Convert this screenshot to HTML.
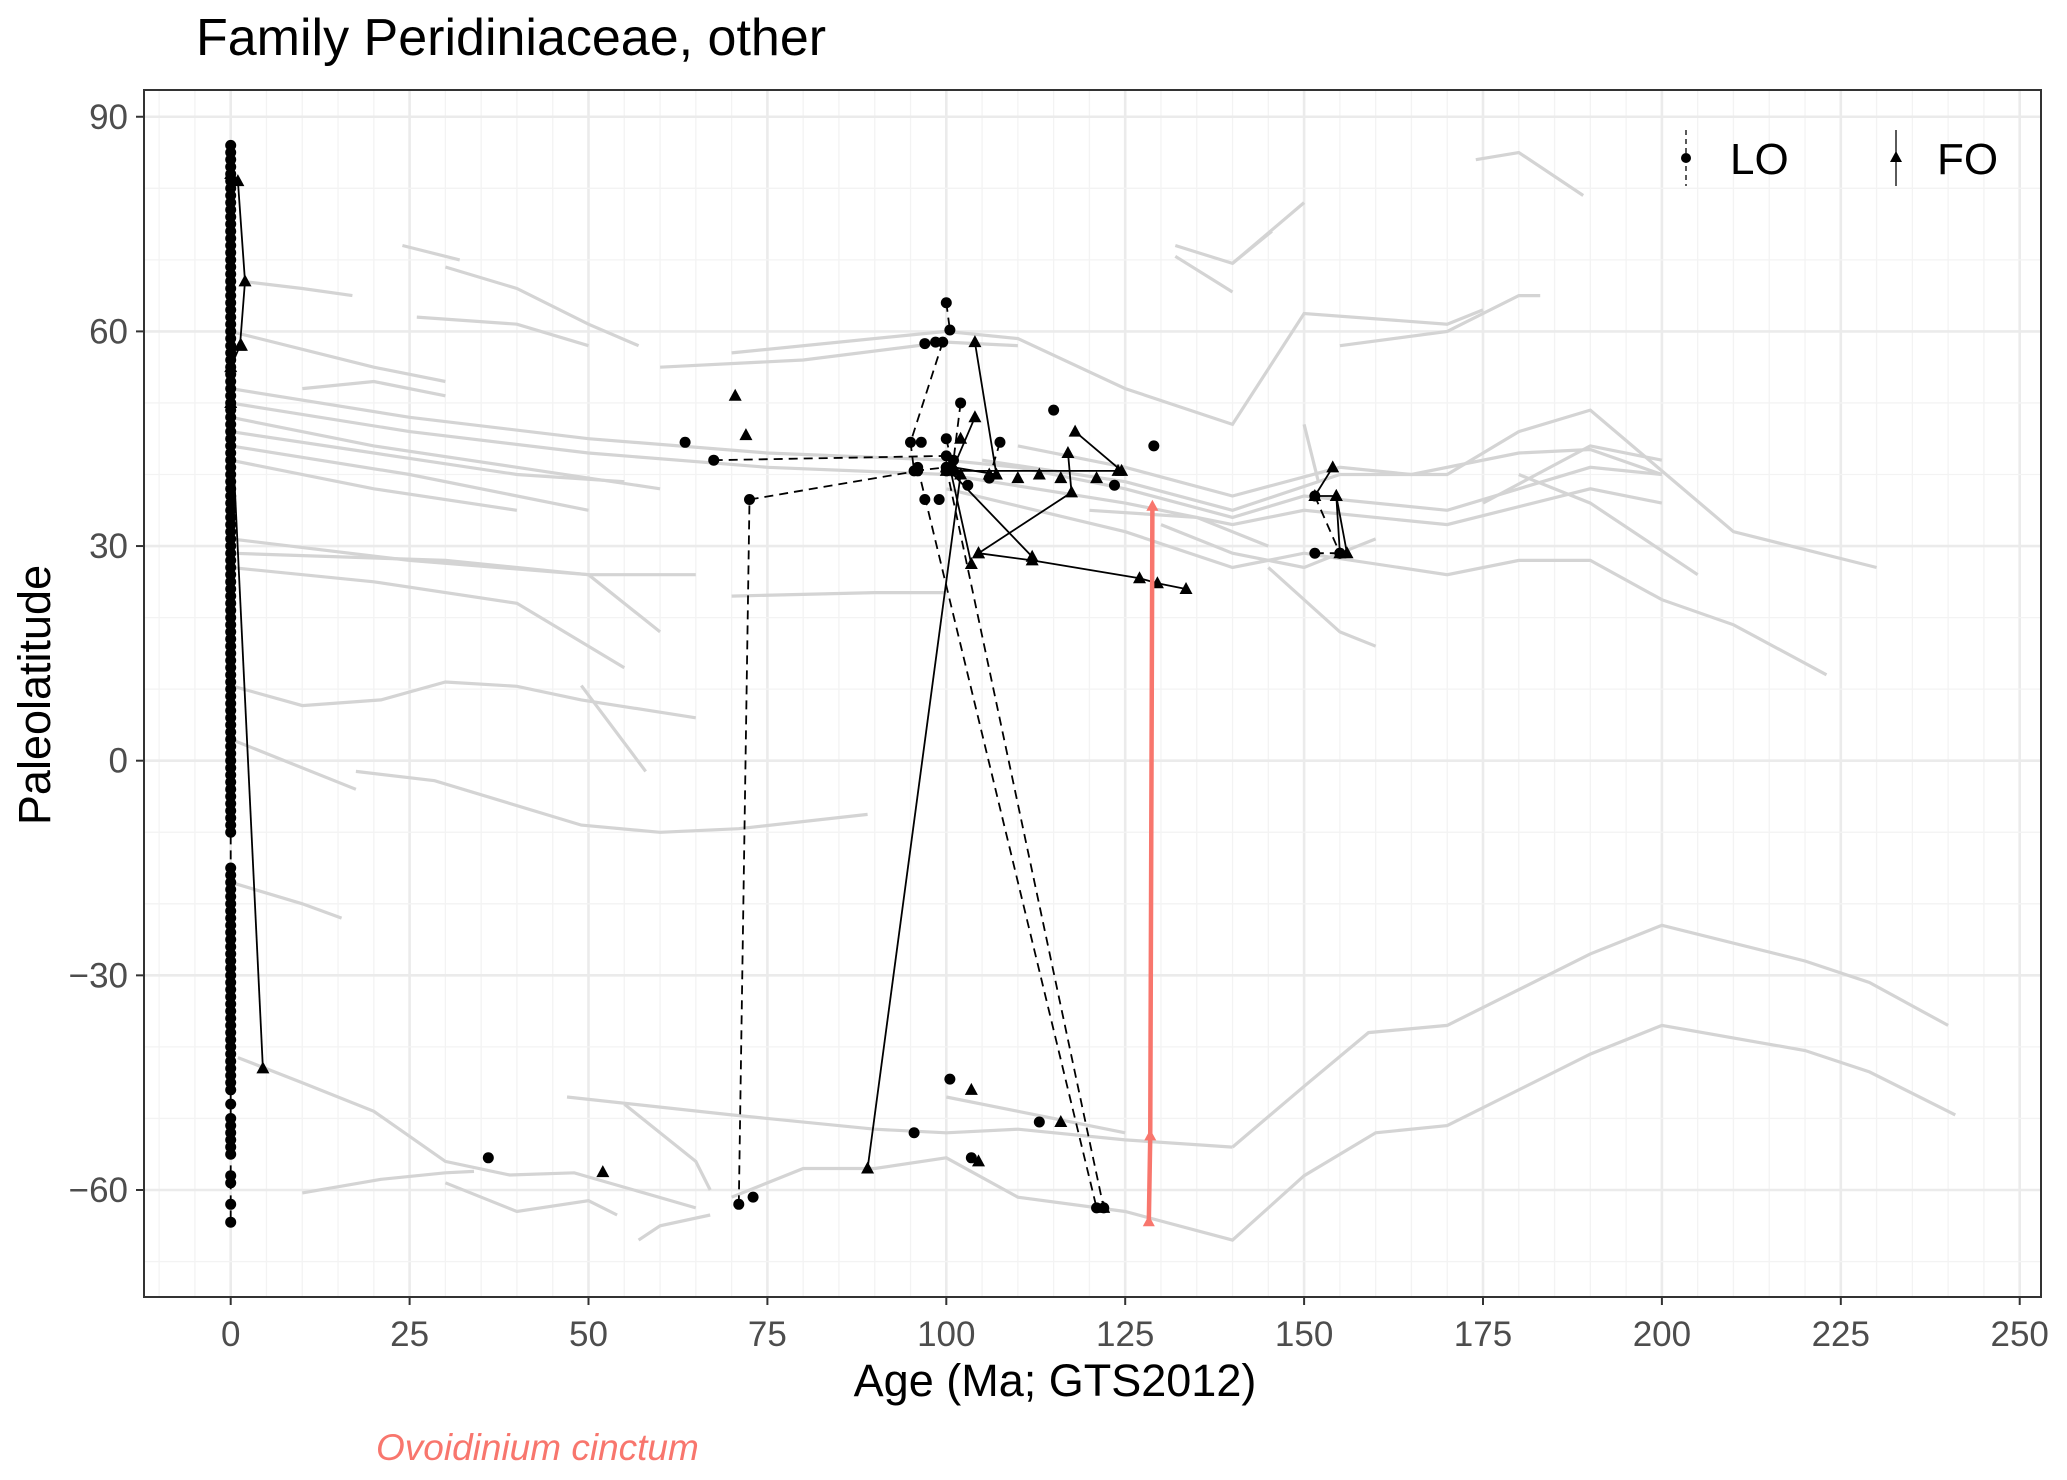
<!DOCTYPE html>
<html><head><meta charset="utf-8"><style>
html,body{margin:0;padding:0;background:#fff;}
svg{display:block;font-family:"Liberation Sans",Arial,sans-serif;}
</style></head><body>
<svg id="chart" width="2067" height="1480" viewBox="0 0 2067 1480" xmlns="http://www.w3.org/2000/svg">
<rect width="2067" height="1480" fill="#fff"/>
<text x="196" y="55" font-size="52" fill="#000">Family Peridiniaceae, other</text>
<g id="grid"></g>
<g id="gray"></g>
<g id="black"></g>
<g id="red"></g>
<rect x="144" y="90" width="1897" height="1207" fill="none" stroke="#333" stroke-width="2"/>
<g id="axes"></g>
<text x="1055" y="1396" font-size="45" text-anchor="middle" fill="#000">Age (Ma; GTS2012)</text>
<text transform="translate(50,695) rotate(-90)" font-size="45" text-anchor="middle" fill="#000">Paleolatitude</text>
<g>
  <g>
    <line x1="1686" y1="130" x2="1686" y2="186" stroke="#000" stroke-width="1.3" stroke-dasharray="5,4"/>
    <circle cx="1686" cy="158" r="5" fill="#000"/>
    <text x="1730" y="174" font-size="44" fill="#000">LO</text>
  </g>
  <g>
    <line x1="1896" y1="130" x2="1896" y2="186" stroke="#000" stroke-width="1.3"/>
    <polygon points="1896,151 1902,162 1890,162" fill="#000"/>
    <text x="1937" y="174" font-size="44" fill="#000">FO</text>
  </g>
</g>
<text x="376" y="1460" font-size="37" font-style="italic" fill="#F8766D">Ovoidinium cinctum</text>
</svg>
<script>
// ---- data ----
const xTicks = [0,25,50,75,100,125,150,175,200,225,250];
const yTicks = [-60,-30,0,30,60,90];
const grayLines = [
 [[174,84],[180,85],[189,79]],
 [[132,72],[140,69.5],[145.5,74]],
 [[140,69.5],[150,78]],
 [[132,70.5],[140,65.5]],
 [[24,72],[32,70]],
 [[1.5,67],[10,66],[17,65]],
 [[30,69],[40,66],[50,61],[57,58]],
 [[26,62],[40,61],[50,58]],
 [[70,57],[100,60]],
 [[60,55],[80,56],[100,58.5],[110,58]],
 [[100,60],[110,59],[125,52],[140,47],[150,62.5],[170,61],[175,63]],
 [[155,58],[170,60],[180,65],[183,65]],
 [[0,60],[20,55],[30,53]],
 [[0,52],[25,48],[50,45],[75,43],[100,42],[110,41],[125,38],[140,34],[150,37],[170,35],[190,41],[200,40]],
 [[0,50],[25,46],[50,43],[75,41],[100,40],[125,36],[140,33],[150,35],[170,33],[190,38],[200,36]],
 [[0,48],[20,44],[40,41],[60,38]],
 [[0,46],[20,43],[40,40],[55,39]],
 [[0,44],[25,40],[50,35]],
 [[0,42],[20,38],[40,35]],
 [[10,52],[20,53],[30,51]],
 [[0,31],[25,28],[50,26],[60,18]],
 [[0,29],[30,28],[50,26],[65,26]],
 [[0,27],[20,25],[40,22],[55,13]],
 [[70,23],[90,23.5],[100,23.5]],
 [[0,10.5],[10,7.7],[21,8.5],[30,11],[40,10.4],[49,8.5],[65,6]],
 [[0,3],[17.5,-4]],
 [[17.5,-1.5],[28.5,-2.8],[49,-9],[60,-10],[71,-9.5],[89,-7.5]],
 [[49,10.5],[58,-1.5]],
 [[0,-17],[10,-20],[15.5,-22]],
 [[100,38],[125,32],[140,27],[150,29],[170,26],[180,28],[190,28],[200,22.5],[210,19],[223,12]],
 [[105,42],[125,39],[140,35],[155,40],[170,40],[180,46],[190,49],[210,32],[230,27]],
 [[110,44],[125,41],[140,37],[155,41],[165,40],[180,43],[190,43.5],[200,40]],
 [[130,33],[140,29],[150,27],[160,31]],
 [[145,27],[155,18],[160,16]],
 [[150,47],[152,39]],
 [[180,40],[190,36],[205,26]],
 [[175,36],[190,44],[200,42]],
 [[120,35],[135,34],[145,30]],
 [[1,-41.5],[10,-45],[20,-49],[30,-56],[39,-57.9],[48,-57.6],[65,-62.5]],
 [[10,-60.4],[21,-58.5],[30,-57.6],[34,-57.4]],
 [[30,-59],[40,-63],[50,-61.5],[54,-63.5]],
 [[57,-67],[60,-65],[67,-63.5]],
 [[47,-47],[70,-49.5],[90,-51.5],[100,-52],[110,-51.5],[125,-53],[140,-54]],
 [[70,-61],[80,-57],[90,-57],[100,-55.5],[110,-61],[125,-63],[140,-67],[150,-58],[160,-52],[170,-51],[190,-41],[200,-37],[220,-40.5],[229,-43.5],[241,-49.5]],
 [[140,-54],[150,-45.5],[159,-38],[170,-37],[190,-27],[200,-23],[220,-28],[229,-31],[240,-37]],
 [[55,-48],[65,-56],[67,-60]],
 [[100,-47],[110,-49],[125,-52]]
];
const loPaths = [
 [[0,86],[0,85],[0,84],[0,83],[0,82],[0,81],[0,80],[0,79],[0,78],[0,77],[0,76],[0,75],[0,74],[0,73],[0,72],[0,71],[0,70],[0,69],[0,68],[0,67],[0,66],[0,65],[0,64],[0,63],[0,62],[0,61],[0,60],[0,59],[0,58],[0,57],[0,56],[0,55],[0,54],[0,53],[0,52],[0,51],[0,50],[0,49],[0,48],[0,47],[0,46],[0,45],[0,44],[0,43],[0,42],[0,41],[0,40],[0,39],[0,38],[0,37],[0,36],[0,35],[0,34],[0,33],[0,32],[0,31],[0,30],[0,29],[0,28],[0,27],[0,26],[0,25],[0,24],[0,23],[0,22],[0,21],[0,20],[0,19],[0,18],[0,17],[0,16],[0,15],[0,14],[0,13],[0,12],[0,11],[0,10],[0,9],[0,8],[0,7],[0,6],[0,5],[0,4],[0,3],[0,2],[0,1],[0,0],[0,-1],[0,-2],[0,-3],[0,-4],[0,-5],[0,-6],[0,-7],[0,-8],[0,-9],[0,-10],[0,-15],[0,-16],[0,-17],[0,-18],[0,-19],[0,-20],[0,-21],[0,-22],[0,-23],[0,-24],[0,-25],[0,-26],[0,-27],[0,-28],[0,-29],[0,-30],[0,-31],[0,-32],[0,-33],[0,-34],[0,-35],[0,-36],[0,-37],[0,-38],[0,-39],[0,-40],[0,-41],[0,-42],[0,-43],[0,-44],[0,-45],[0,-46],[0,-48],[0,-50],[0,-51],[0,-52],[0,-53],[0,-54],[0,-55],[0,-58],[0,-59],[0,-62],[0,-64.5]],
 [[71,-62],[72.5,36.5],[96,40.5]],
 [[67.5,42],[100,42.6]],
 [[99.5,58.5],[95,44.5],[95.5,40.5],[100,41]],
 [[100,64],[100.5,60.2]],
 [[97,58.3],[98.5,58.5]],
 [[96,41],[121,-62.5]],
 [[100,41],[122,-62.5]],
 [[107.5,44.5],[106,39.5]],
 [[151.5,37],[155,29]],
 [[151.5,29],[155,29]],
 [[100,45],[101,40.5]],
 [[102,50],[101,42]]
];
const loPoints = [[63.5,44.5],[36,-55.5],[73,-61],[95.5,-52],[100.5,-44.5],[103.5,-55.5],[113,-50.5],[115,49],[129,44],[123.5,38.5],[97,36.5],[99,36.5],[103,38.5],[96.5,44.5],[100,40.5]];
const foPaths = [
 [[0,82],[1,81],[2,67],[1.3,58],[0,55]],
 [[0,50],[4.5,-43]],
 [[89,-57],[102,40]],
 [[104,58.5],[107,40],[101,41]],
 [[100.5,41],[103.5,27.5]],
 [[104.5,29],[112,28],[127,25.5],[129.5,24.8],[133.5,24]],
 [[100,41],[112,28.5]],
 [[104.5,29],[117.5,37.5],[117,43]],
 [[118,46],[124.5,40.5]],
 [[100,40.5],[124,40.5]],
 [[101,41],[104,48]],
 [[154,41],[151.5,37],[154.5,37],[155,29]],
 [[154.5,37],[156,29]]
];
const foPoints = [[70.5,51],[72,45.5],[52,-57.5],[103.5,-46],[104.5,-56],[116,-50.5],[122,-62.5],[106,40],[110,39.5],[113,40],[116,39.5],[121,39.5],[1.5,58],[102,45]];
const redAges = [128.8,128.5,128.3];
const redLats = [35.5,-52.5,-64.5];

// ---- scales ----
const X = v => 230.7 + 7.156*v;
const Y = v => 760.7 - 7.155*v;
const NS = "http://www.w3.org/2000/svg";
function mk(tag, parent){ const e=document.createElementNS(NS,tag); parent.appendChild(e); return e; }
const pts = arr => arr.map(p=>X(p[0]).toFixed(1)+","+Y(p[1]).toFixed(1)).join(" ");

// grid
const grid=document.getElementById('grid');
for(let v=-10; v<=253; v+=5){
  const major = v%25===0;
  const l=mk('line',grid);
  
  
  l.setAttribute('x1',X(v));l.setAttribute('x2',X(v));l.setAttribute('y1',90);l.setAttribute('y2',1297);
  l.setAttribute('stroke',major?'#ebebeb':'#f3f3f3');l.setAttribute('stroke-width',major?2.6:1.3);
}
for(let v=-70; v<=90; v+=10){
  const major = v%30===0;
  const l=mk('line',grid);
  
  
  l.setAttribute('x1',144);l.setAttribute('x2',2041);l.setAttribute('y1',Y(v));l.setAttribute('y2',Y(v));
  l.setAttribute('stroke',major?'#ebebeb':'#f3f3f3');l.setAttribute('stroke-width',major?2.6:1.3);
}
// gray lines
const gray=document.getElementById('gray');
grayLines.forEach(g=>{
  const p=mk('polyline',gray);
  
  
  p.setAttribute('points',pts(g));p.setAttribute('fill','none');p.setAttribute('stroke','#d4d4d4');p.setAttribute('stroke-width',3.2);
});
// black
const black=document.getElementById('black');
function circ(p){
  const c=mk('circle',black);
  
  
  c.setAttribute('cx',X(p[0]));c.setAttribute('cy',Y(p[1]));c.setAttribute('r',5.5);c.setAttribute('fill','#000');
}
function tri(p){
  const t=mk('polygon',black);
  
  
  const x=X(p[0]),y=Y(p[1]);
  t.setAttribute('points',`${x},${y-7} ${x+6.5},${y+5} ${x-6.5},${y+5}`);t.setAttribute('fill','#000');
}
loPaths.forEach(path=>{
  const p=mk('polyline',black);
  
  
  p.setAttribute('points',pts(path));p.setAttribute('fill','none');p.setAttribute('stroke','#000');p.setAttribute('stroke-width',1.8);p.setAttribute('stroke-dasharray','9,6');
  path.forEach(circ);
});
loPoints.forEach(circ);
foPaths.forEach(path=>{
  const p=mk('polyline',black);
  
  
  p.setAttribute('points',pts(path));p.setAttribute('fill','none');p.setAttribute('stroke','#000');p.setAttribute('stroke-width',1.8);
  path.forEach(tri);
});
foPoints.forEach(tri);
// red
const red=document.getElementById('red');
const rl=mk('polyline',red);


rl.setAttribute('points',redAges.map((a,i)=>X(a)+","+Y(redLats[i])).join(" "));
rl.setAttribute('fill','none');rl.setAttribute('stroke','#F8766D');rl.setAttribute('stroke-width',4.5);
redAges.forEach((a,i)=>{
  const t=mk('polygon',red);
  
  
  const x=X(a),y=Y(redLats[i]);
  t.setAttribute('points',`${x},${y-7} ${x+6},${y+4} ${x-6},${y+4}`);t.setAttribute('fill','#F8766D');
});
// axes
const axes=document.getElementById('axes');
xTicks.forEach(v=>{
  const l=mk('line',axes);
  
  
  l.setAttribute('x1',X(v));l.setAttribute('x2',X(v));l.setAttribute('y1',1297);l.setAttribute('y2',1305);l.setAttribute('stroke','#333');l.setAttribute('stroke-width',2);
  const t=mk('text',axes);
  
  
  t.setAttribute('x',X(v));t.setAttribute('y',1346);t.setAttribute('font-size',35);t.setAttribute('text-anchor','middle');t.setAttribute('fill','#4d4d4d');
  t.textContent=v;
});
yTicks.forEach(v=>{
  const l=mk('line',axes);
  
  
  l.setAttribute('x1',136);l.setAttribute('x2',144);l.setAttribute('y1',Y(v));l.setAttribute('y2',Y(v));l.setAttribute('stroke','#333');l.setAttribute('stroke-width',2);
  const t=mk('text',axes);
  
  
  t.setAttribute('x',128);t.setAttribute('y',Y(v)+12);t.setAttribute('font-size',35);t.setAttribute('text-anchor','end');t.setAttribute('fill','#4d4d4d');
  t.textContent=v<0?'\u2212'+Math.abs(v):v;
});
</script>
</body></html>
